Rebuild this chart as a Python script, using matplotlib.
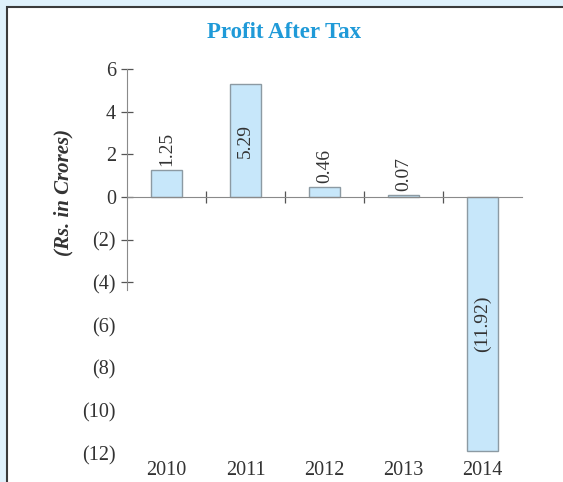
import matplotlib
matplotlib.use("Agg")
import matplotlib.pyplot as plt
from matplotlib.patches import Rectangle
from matplotlib.ticker import FixedLocator, FuncFormatter

# ---- data ----
years = ["2010", "2011", "2012", "2013", "2014"]
profit = [1.25, 5.29, 0.46, 0.07, -11.92]
value_labels = ["1.25", "5.29", "0.46", "0.07", "(11.92)"]
y_label_ticks = [6, 4, 2, 0, -2, -4, -6, -8, -10, -12]
y_mark_ticks = [6, 4, 2, 0, -2, -4]

serif = "Liberation Serif"
W, H = 563, 482
fig = plt.figure(figsize=(W / 100, H / 100), dpi=100)
fig.patch.set_facecolor("#dff1fb")
fig.patches.append(Rectangle((7 / W, -0.01), 1.0, (H - 7) / H + 0.01,
                             transform=fig.transFigure, facecolor="white",
                             edgecolor="#3a3a3a", lw=1.5, zorder=-5))

ax = fig.add_axes([127 / W, 0.0469, 395 / W, 0.879 - 0.0469])
ax.set_facecolor("none")
x = list(range(len(years)))
ax.bar(x, profit, width=0.405, color="#c7e7fa", edgecolor="#8c9aa3", linewidth=1.0, zorder=2)

for xi, v, lab in zip(x, profit, value_labels):
    if abs(v) > 3:
        ax.text(xi, v / 2, lab, rotation=90, ha="center", va="center",
                family=serif, fontsize=14, color="#333333", zorder=3)
    else:
        ax.text(xi, v + 0.2, lab, rotation=90, ha="center", va="bottom",
                family=serif, fontsize=14, color="#333333", zorder=3)

ax.set_xlim(-0.5, 4.5)
ax.set_ylim(-12.3, 6.5)

for s in ["right", "bottom"]:
    ax.spines[s].set_visible(False)
ax.spines["top"].set_position(("data", 0))
ax.spines["top"].set_color("#8a8a8a")
ax.spines["left"].set_color("#8a8a8a")
ax.spines["left"].set_bounds(-4.35, 6)

# x axis: labels at bottom, separator marks on zero line
ax.set_xticks(x)
ax.set_xticklabels(years, family=serif, fontsize=14.5, color="#333333")
ax.xaxis.set_minor_locator(FixedLocator([0.5, 1.5, 2.5, 3.5]))
ax.tick_params(axis="x", which="major", bottom=True, top=False, length=0, pad=1)
ax.tick_params(axis="x", which="minor", bottom=False, top=True, direction="inout",
               length=8.5, width=0.9, color="#555555")

# y axis
ax.yaxis.remove_overlapping_locs = False
ax.yaxis.set_major_locator(FixedLocator(y_label_ticks))
ax.yaxis.set_major_formatter(FuncFormatter(lambda v, p: f"({abs(int(v))})" if v < 0 else f"{int(v)}"))
ax.yaxis.set_minor_locator(FixedLocator(y_mark_ticks))
ax.tick_params(axis="y", which="major", length=0, pad=8, labelsize=14.5, labelcolor="#333333")
ax.tick_params(axis="y", which="minor", direction="inout", length=8.5, width=0.9, color="#555555")
for t in ax.get_yticklabels():
    t.set_family(serif)

fig.text(284 / W, 1 - 33 / H, "Profit After Tax", ha="center", va="center",
         family=serif, fontsize=16.5, fontweight="bold", color="#1f9ad8")
fig.text(63 / W, 1 - 192 / H, "(Rs. in Crores)", ha="center", va="center", rotation=90,
         family=serif, fontsize=15, fontweight="bold", style="italic", color="#333333")

fig.savefig("out.png", dpi=100)
